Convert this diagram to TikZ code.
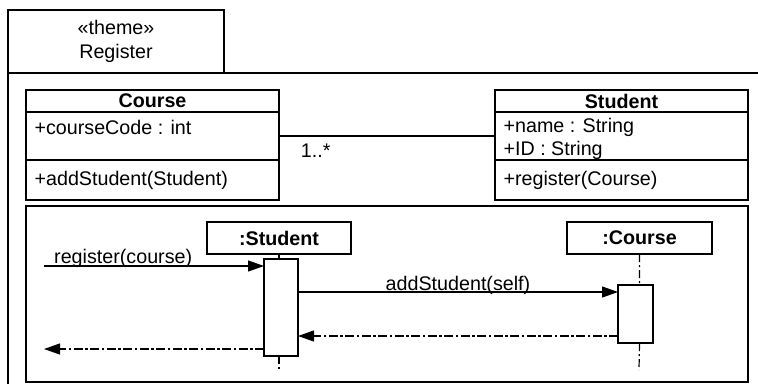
\documentclass[tikz,border=0pt]{standalone}
\usepackage{fontspec}
\setmainfont{Liberation Sans}
\usetikzlibrary{positioning,arrows.meta}

\begin{document}
\begin{tikzpicture}[
  x=1pt, y=-1pt,
  font=\fontsize{19.7}{23.5}\selectfont,
  line width=1.2pt,
  compart/.style={draw, minimum width=253pt, inner sep=0pt, outer sep=0pt},
  member/.style={anchor=base west, inner sep=0pt},
  lifehead/.style={draw, minimum height=32pt, inner sep=0pt, outer sep=0pt, font=\fontsize{19.7}{23.5}\selectfont\bfseries},
  activation/.style={draw, fill=white, minimum width=34pt, inner sep=0pt, outer sep=0pt},
  lifeline/.style={dash pattern=on 8pt off 3pt on 2pt off 3pt},
  msg/.style={-{Triangle[length=16pt,width=11pt]}},
  ret/.style={msg, dash pattern=on 9pt off 2.5pt on 2.5pt off 2.5pt},
  msglabel/.style={anchor=base, inner sep=0pt}
]
  \useasboundingbox (0,0) rectangle (758,384);

  % theme frame
  \node[draw, minimum width=216pt, minimum height=63pt, outer sep=0pt, align=center] (tab) at (116,41.5) {«theme»\\Register};
  \coordinate (frametr) at (758,73);
  \coordinate (framebl) at (8,384);
  \draw (frametr) -- (tab.south west) -- (framebl);

  % class diagram
  \node[compart, minimum height=22pt, font=\fontsize{19.7}{23.5}\selectfont\bfseries] (coursehd) at (152.5,101) {Course};
  \node[compart, minimum height=48pt, below=0pt of coursehd] (courseattr) {};
  \node[compart, minimum height=40pt, below=0pt of courseattr] (courseop) {};
  \node[member] (ccode) at (34,134) {+courseCode : int};
  \node[member] (cadd)  at (34,185) {+addStudent(Student)};

  \node[compart, minimum height=22pt, font=\fontsize{19.7}{23.5}\selectfont\bfseries] (stuhd) at (621.5,101) {Student};
  \node[compart, minimum height=48pt, below=0pt of stuhd] (stuattr) {};
  \node[compart, minimum height=40pt, below=0pt of stuattr] (stuop) {};
  \node[member] (sname) at (503,132) {+name : String};
  \node[member] (sid)   at (503,155) {+ID : String};
  \node[member] (sreg)  at (503,185) {+register(Course)};

  \draw (courseattr.east) -- node[msglabel, pos=0.17, yshift=-21pt] {1..*} (stuattr.west);

  % sequence diagram
  \node[draw, minimum width=722pt, minimum height=176pt, inner sep=0pt, outer sep=0pt] (seqframe) at (387,294) {};

  \node[lifehead, minimum width=144pt] (stuhead) at (279,238) {:Student};
  \node[lifehead, minimum width=145pt] (couhead) at (639.5,238) {:Course};
  \node[activation, minimum height=97pt] (stuact) at (281,307.5) {};
  \node[activation, minimum height=58pt, minimum width=35pt] (couact) at (635.5,314) {};

  \coordinate (stuend) at (279,370);
  \coordinate (couend) at (639,370);
  \draw[lifeline] (stuhead.south) -- (stuhead.south |- stuact.north)
                  (stuhead.south |- stuact.south) -- (stuend);
  \draw[lifeline] (couhead.south) -- (couhead.south |- couact.north)
                  (couhead.south |- couact.south) -- (couend);

  \coordinate (callin)  at (44,266);
  \coordinate (callout) at (44,349);
  \draw[msg] (callin) -- node[msglabel, pos=0.36, yshift=3pt] {register(course)} (callin -| stuact.west);
  \draw[msg] (stuact.east |- 0,292) -- node[msglabel, yshift=2pt] {addStudent(self)} (couact.west |- 0,292);
  \draw[ret] (couact.west |- 0,336) -- (stuact.east |- 0,336);
  \draw[ret] (stuact.west |- callout) -- (callout);
\end{tikzpicture}
\end{document}
